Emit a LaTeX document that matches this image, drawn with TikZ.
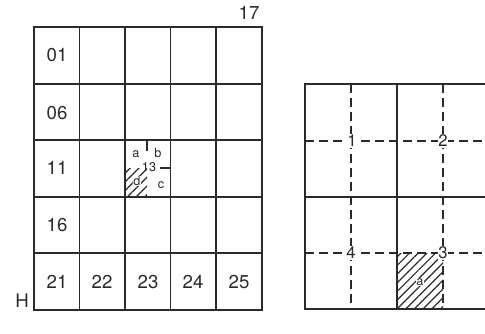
\documentclass[tikz,border=0pt]{standalone}
\usepackage{fontspec}
\setmainfont{TeX Gyre Heros}
\usetikzlibrary{patterns.meta}
\definecolor{ink}{HTML}{2A2A2A}

\begin{document}
\begin{tikzpicture}[x=0.75pt, y=-0.75pt,
    grid/.style={draw=ink, line width=0.9pt},
    frame/.style={draw=ink, line width=1.2pt},
    guide/.style={draw=ink, line width=0.9pt, dash pattern=on 6.5pt off 4pt},
    hatch/.style={pattern={Lines[angle=45, distance=4.6pt, line width=0.9pt]}, pattern color=ink},
    num/.style={font=\fontsize{14}{16}\selectfont, text=ink, inner sep=1pt},
    quad/.style={font=\fontsize{9.5}{11}\selectfont, text=ink, inner sep=0.4pt},
    cross/.style={fill=white, font=\fontsize{12.5}{14}\selectfont, text=ink, inner sep=0.5pt}]
  \useasboundingbox (0,0) rectangle (485,333);

  % sheet index, 5 x 5
  \fill[hatch] (125,168) rectangle (147,197);
  \draw[frame] (34,27) rectangle (262,310);
  \foreach \x in {79.5,125,170.5,216} \draw[grid] (\x,27) -- (\x,310);
  \foreach \y in {84,140,197,253} \draw[grid] (34,\y) -- (262,\y);
  \draw[grid] (147,140) -- (147,151);
  \draw[grid] (160,168) -- (170.5,168);

  \node[num] (c01) at (57,55) {01};
  \node[num] (c06) at (57,113) {06};
  \node[num] (c11) at (57,168) {11};
  \node[num] (c16) at (57,225) {16};
  \node[num] (c21) at (57,282) {21};
  \node[num] (c22) at (102,282) {22};
  \node[num] (c23) at (148,282) {23};
  \node[num] (c24) at (193,282) {24};
  \node[num] (c25) at (239,282) {25};
  \node[num] (top) at (249,13) {17};
  \node[num] (zone) at (22,301) {H};

  \node[quad] (qa) at (136,154) {a};
  \node[quad] (qb) at (158,153) {b};
  \node[quad] (qc) at (161,185) {c};
  \node[quad, fill=white] (qd) at (137,181) {d};
  \node[quad] (c13) at (149,167) {13};

  % sheet 13 enlarged
  \fill[hatch] (397,253) rectangle (443,309);
  \draw[frame] (485,84) -- (305,84) -- (305,309) -- (485,309);
  \draw[grid] (397,84) -- (397,309);
  \draw[grid] (305,197) -- (485,197);
  \foreach \x in {351,443} \draw[guide] (\x,84) -- (\x,309);
  \foreach \y in {141,253} \draw[guide] (305,\y) -- (485,\y);

  \node[cross] (s1) at (352,141) {1};
  \node[cross] (s2) at (443,141) {2};
  \node[cross] (s3) at (443,253) {3};
  \node[cross] (s4) at (351,253) {4};
  \node[quad, fill=white] (sa) at (420,282) {a};
\end{tikzpicture}
\end{document}
